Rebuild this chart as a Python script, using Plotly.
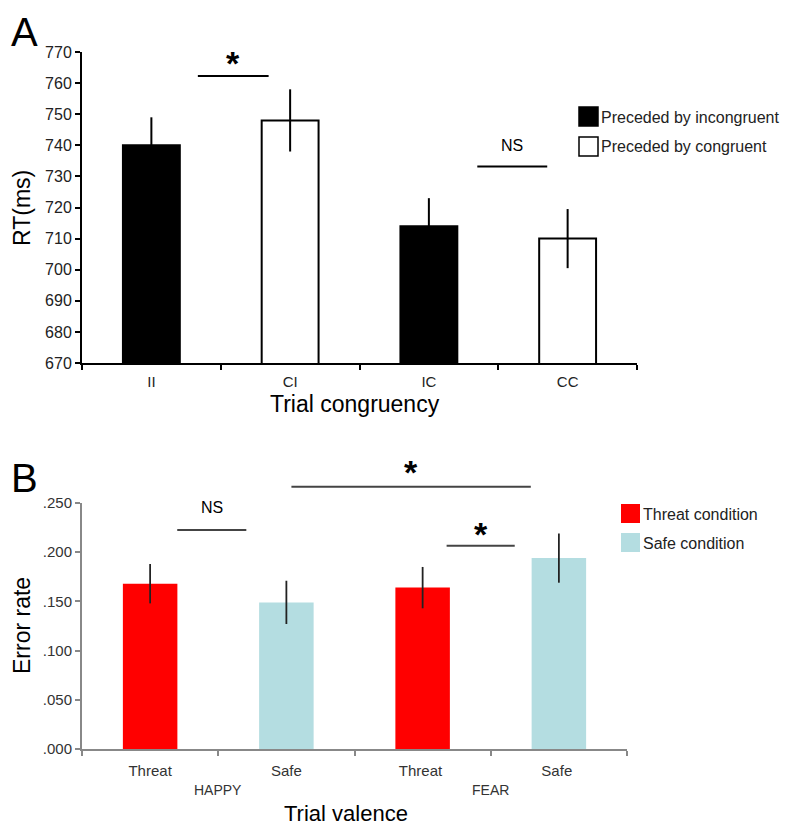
import plotly.graph_objects as go

# ---- Panel A data ----
a_categories = ["II", "CI", "IC", "CC"]
a_values = [740, 748, 714, 710]
a_errors = [9, 10, 9, 9.5]
a_yticks = [670, 680, 690, 700, 710, 720, 730, 740, 750, 760, 770]

# ---- Panel B data ----
b_categories = ["Threat", "Safe", "Threat ", "Safe "]
b_values = [0.168, 0.149, 0.164, 0.194]
b_errors = [0.020, 0.022, 0.021, 0.025]
b_groups = ["HAPPY", "FEAR"]
b_yticks = [0.0, 0.05, 0.10, 0.15, 0.20, 0.25]
b_yticklabels = [".000", ".050", ".100", ".150", ".200", ".250"]

FONT = "Liberation Sans, Arial, sans-serif"
OFF = 8  # page body margin
W, H = 800 - OFF, 830 - OFF

def px_x(p):
    return (p - OFF) / W

def px_y(p):
    return 1 - (p - OFF) / H

A_XDOM = [px_x(82), px_x(637)]
A_YDOM = [px_y(363), px_y(52)]
A_YRANGE = [670, 770]
B_XDOM = [px_x(82), px_x(627)]
B_YDOM = [px_y(749), px_y(503)]
B_YRANGE = [0, 0.25]

def to_paper_x(c, dom):
    return dom[0] + (c + 0.5) / 4 * (dom[1] - dom[0])

def to_paper_y(v, dom, rng):
    return dom[0] + (v - rng[0]) / (rng[1] - rng[0]) * (dom[1] - dom[0])

fig = go.Figure()

a_colors = ["black", "white", "black", "white"]
fig.add_trace(go.Bar(
    x=a_categories, y=a_values, width=0.41,
    marker=dict(color=a_colors, line=dict(color="black", width=2)),
    error_y=dict(type="data", array=a_errors, color="black", thickness=2, width=0),
    xaxis="x", yaxis="y", showlegend=False,
))

b_colors = ["#ff0000", "#b4dde1", "#ff0000", "#b4dde1"]
fig.add_trace(go.Bar(
    x=b_categories, y=b_values, width=0.4,
    marker=dict(color=b_colors, line=dict(width=0)),
    error_y=dict(type="data", array=b_errors, color="#222222", thickness=1.8, width=0),
    xaxis="x2", yaxis="y2", showlegend=False,
))

fig.update_layout(
    width=W, height=H,
    margin=dict(l=0, r=0, t=0, b=0, autoexpand=False),
    paper_bgcolor="white", plot_bgcolor="white",
    font=dict(family=FONT, color="black"),
    xaxis=dict(
        domain=A_XDOM, anchor="y", automargin=False,
        type="category", range=[-0.5, 3.5],
        showline=True, linecolor="black", linewidth=2,
        ticks="outside", tickson="boundaries", ticklen=5, tickwidth=1.5, tickcolor="black",
        tickfont=dict(size=15, color="#222"), showgrid=False, ticklabelstandoff=4,
    ),
    yaxis=dict(
        domain=A_YDOM, anchor="x", automargin=False,
        range=A_YRANGE, tickvals=a_yticks,
        showline=True, linecolor="black", linewidth=2,
        ticks="outside", ticklen=5, tickwidth=1.5, tickcolor="black",
        tickfont=dict(size=16, color="#222"), showgrid=False, zeroline=False,
    ),
    xaxis2=dict(
        domain=B_XDOM, anchor="y2", automargin=False,
        type="category", range=[-0.5, 3.5],
        showline=True, linecolor="#888888", linewidth=2,
        ticks="outside", tickson="boundaries", ticklen=5, tickwidth=1.5, tickcolor="#888888",
        tickfont=dict(size=15, color="#333"), showgrid=False, ticklabelstandoff=7,
    ),
    yaxis2=dict(
        domain=B_YDOM, anchor="x2", automargin=False,
        range=B_YRANGE, tickvals=b_yticks, ticktext=b_yticklabels,
        showline=True, linecolor="#888888", linewidth=2,
        ticks="outside", ticklen=5, tickwidth=1.5, tickcolor="#888888",
        tickfont=dict(size=15, color="#333"), showgrid=False, zeroline=False,
    ),
)

def note(x, y, text, size, color="black", xanchor="center", angle=0, xref="paper", yref="paper"):
    fig.add_annotation(xref=xref, yref=yref, x=x, y=y, text=text, textangle=angle,
                       xanchor=xanchor, yanchor="middle", showarrow=False,
                       font=dict(size=size, color=color))

# axis titles
note(px_x(355), px_y(404), "Trial congruency", 23)
note(px_x(22), px_y(208), "RT(ms)", 23, angle=-90)
note(px_x(22), px_y(626), "Error rate", 23, angle=-90)
note(px_x(346), px_y(813), "Trial valence", 22)

# significance markers (bracket lines), positions in category/data units
a_sig = [
    dict(x0=0.335, x1=0.845, y=762.3, label="<b>*</b>", ly=766.5, size=34),
    dict(x0=2.349, x1=2.853, y=733.2, label="NS", ly=740.0, size=16),
]
b_sig = [
    dict(x0=0.199, x1=0.706, y=0.2225, label="NS", ly=0.2455, size=16),
    dict(x0=1.037, x1=2.794, y=0.2666, label="<b>*</b>", ly=0.2815, size=34),
    dict(x0=2.176, x1=2.676, y=0.2066, label="<b>*</b>", ly=0.2185, size=34),
]
for sigs, xd, yd, yr, lc in [(a_sig, A_XDOM, A_YDOM, A_YRANGE, "black"),
                             (b_sig, B_XDOM, B_YDOM, B_YRANGE, "#444444")]:
    for s in sigs:
        x0, x1 = to_paper_x(s["x0"], xd), to_paper_x(s["x1"], xd)
        yy = to_paper_y(s["y"], yd, yr)
        fig.add_shape(type="line", xref="paper", yref="paper", x0=x0, x1=x1, y0=yy, y1=yy,
                      line=dict(color=lc, width=2))
        note((x0 + x1) / 2, to_paper_y(s["ly"], yd, yr), s["label"], s["size"])

# group labels for panel B
for i, g in enumerate(b_groups):
    note(to_paper_x(0.5 + 2 * i, B_XDOM), px_y(790), g, 14, color="#333")

# legends drawn manually
a_legend = [("Preceded by incongruent", "black"), ("Preceded by congruent", "white")]
for i, (name, col) in enumerate(a_legend):
    top = 107 + 30 * i
    fig.add_shape(type="rect", xref="paper", yref="paper", x0=px_x(579), x1=px_x(598),
                  y0=px_y(top + 19), y1=px_y(top), fillcolor=col, line=dict(color="black", width=1.5))
    note(px_x(599), px_y(top + 10), name, 16, color="#222", xanchor="left")

b_legend = [("Threat condition", "#ff0000"), ("Safe condition", "#b4dde1")]
for i, (name, col) in enumerate(b_legend):
    top = 504 + 29 * i
    fig.add_shape(type="rect", xref="paper", yref="paper", x0=px_x(621), x1=px_x(640),
                  y0=px_y(top + 19), y1=px_y(top), fillcolor=col, line=dict(width=0))
    note(px_x(641), px_y(top + 10), name, 16, color="#222", xanchor="left")

# panel letters
fig.add_annotation(xref="paper", yref="paper", x=px_x(24), y=1, text="A",
                   xanchor="center", yanchor="top", showarrow=False, font=dict(size=40, color="black"))
note(px_x(24), px_y(478), "B", 40)

fig.write_html("out.html")
